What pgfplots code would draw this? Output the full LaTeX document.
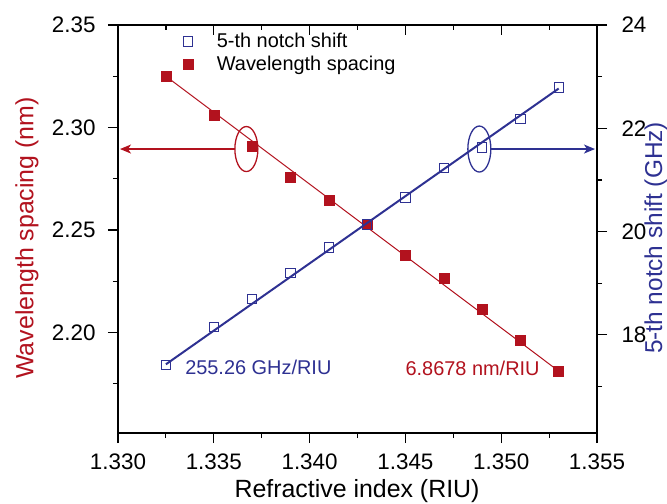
\documentclass[border=0pt]{standalone}
\usepackage{pgfplots}
\pgfplotsset{compat=1.18}
\usepackage{fontspec}
\setmainfont{Liberation Sans}
\usetikzlibrary{arrows.meta}
\definecolor{dred}{RGB}{178,18,30}
\definecolor{dblue}{RGB}{46,49,146}

\pgfplotstableread{
x y
1.3325 2.3252
1.3350 2.3062
1.3370 2.2911
1.3390 2.2759
1.3410 2.2644
1.3430 2.2528
1.3450 2.2377
1.3470 2.2264
1.3490 2.2113
1.3510 2.1962
1.3530 2.1810
}\spacing

\pgfplotstableread{
x y
1.3325 17.414
1.3350 18.149
1.3370 18.691
1.3390 19.194
1.3410 19.690
1.3430 20.135
1.3450 20.658
1.3470 21.232
1.3490 21.626
1.3510 22.181
1.3530 22.787
}\notch

\pgfplotsset{
  common/.style={
    scale only axis, width=479bp, height=408bp,
    at={(0,0)}, anchor=south west,
    xmin=1.330, xmax=1.355,
    xtick={1.330,1.335,1.340,1.345,1.350,1.355},
    minor xtick={1.3325,1.3375,1.3425,1.3475,1.3525},
    scaled ticks=false,
    /pgf/number format/assume math mode=true,
    tick label style={font=\fontsize{22.5}{24}\selectfont},
    major tick length=10bp, minor tick length=5bp,
    every tick/.style={black, line width=1.2bp},
    axis line style={line width=1.6bp},
    clip=false,
  }
}

\begin{document}
\begin{tikzpicture}
\useasboundingbox (-118bp,-71bp) rectangle (549bp,433bp);
% left axis
\begin{axis}[common,
  axis x line*=bottom, axis y line*=left, tick align=outside,
  ymin=2.151, ymax=2.35,
  ytick={2.20,2.25,2.30,2.35},
  minor ytick={2.175,2.225,2.275,2.325},
  yticklabel style={xshift=-9bp, /pgf/number format/.cd, fixed, fixed zerofill, precision=2},
  xticklabel style={yshift=-7bp, /pgf/number format/.cd, fixed, fixed zerofill, precision=3},
  xlabel={Refractive index (RIU)},
  ylabel={Wavelength spacing (nm)},
  every axis x label/.style={at={(axis description cs:0.499,-0.142)}, anchor=center, font=\fontsize{25}{28}\selectfont},
  every axis y label/.style={at={(axis description cs:-0.19,0.478)}, anchor=center, rotate=90, font=\fontsize{25}{28}\selectfont, text=dred},
]
\addplot[dred, line width=1bp] coordinates {(1.3325,2.3250) (1.3530,2.1812)};
\addplot[only marks, mark=square*, mark size=5bp, dred, mark options={fill=dred, draw=dred}] table[x=x,y=y]{\spacing};
\draw[dred, line width=1.3bp] (axis cs:1.3367,2.2895) ellipse [x radius=11.5bp, y radius=22.5bp];
\draw[dred, line width=1.3bp, -{Stealth[length=11bp,width=9bp,inset=3bp]}] ([xshift=-11.5bp]axis cs:1.3367,2.2895) -- ([xshift=2bp]axis cs:1.330,2.2895);
\draw[dblue, line width=1.3bp] (axis cs:1.34886,2.2895) ellipse [x radius=11.5bp, y radius=23bp];
\draw[dblue, line width=1.3bp, -{Stealth[length=11bp,width=9bp,inset=3bp]}] ([xshift=11.5bp]axis cs:1.34886,2.2895) -- ([xshift=-2bp]axis cs:1.355,2.2895);
\node[anchor=west, text=dblue, font=\fontsize{20}{22}\selectfont, inner sep=0pt] at (axis cs:1.3335,2.1831) {255.26 GHz/RIU};
\node[anchor=west, text=dred, font=\fontsize{20}{22}\selectfont, inner sep=0pt] at (axis cs:1.3450,2.1824) {6.8678 nm/RIU};
\end{axis}
% right axis
\begin{axis}[common,
  axis y line*=right, axis x line=none, tick align=outside,
  ymin=16.1, ymax=24,
  ytick={18,20,22,24},
  minor ytick={17,19,21,23},
  yticklabel style={xshift=11bp},
  ylabel={5-th notch shift (GHz)},
  every axis y label/.style={at={(axis description cs:1.123,0.478)}, anchor=center, rotate=90, font=\fontsize{24.5}{28}\selectfont, text=dblue},
]
\addplot[dblue, line width=2bp] coordinates {(1.3325,17.43) (1.3530,22.77)};
\addplot[only marks, mark=square, mark size=4.7bp, dblue, mark options={line width=0.9bp}] table[x=x,y=y]{\notch};
\end{axis}
% top axis
\begin{axis}[common,
  axis x line*=top, axis y line=none, tick align=inside,
  xticklabels={}, ymin=0, ymax=1,
  legend style={at={(axis description cs:0.135,0.985)}, anchor=north west, draw=none, fill=none,
    font=\fontsize{20}{22}\selectfont, row sep=3bp, inner sep=0pt, cells={anchor=west},
    /tikz/every odd column/.append style={column sep=22bp}},
  legend image code/.code={\draw[#1] plot coordinates {(5bp,0bp)};},
]
\addlegendimage{draw=none, mark=square, mark size=4.7bp, mark options={draw=dblue, line width=0.9bp}}
\addlegendentry{5-th notch shift}
\addlegendimage{draw=none, mark=square*, mark size=5bp, mark options={fill=dred, draw=dred}}
\addlegendentry{Wavelength spacing}
\end{axis}
\end{tikzpicture}
\end{document}
